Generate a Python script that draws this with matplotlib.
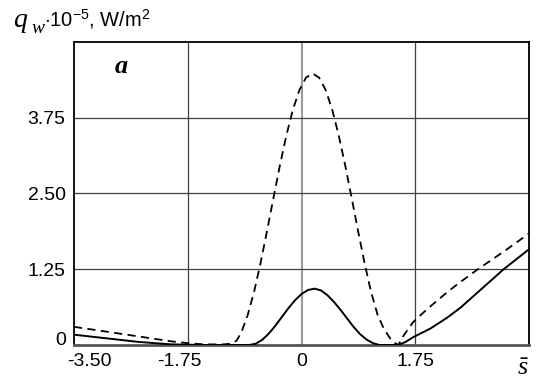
import matplotlib
matplotlib.use('Agg')
import matplotlib.pyplot as plt
import matplotlib.transforms as mtransforms

plt.rcParams['font.family'] = 'Liberation Sans'
plt.rcParams['axes.unicode_minus'] = False
plt.rcParams['mathtext.fontset'] = 'custom'
plt.rcParams['mathtext.it'] = 'Liberation Serif:italic'
plt.rcParams['mathtext.rm'] = 'Liberation Sans'
plt.rcParams['mathtext.bf'] = 'Liberation Serif:italic:bold'

# curve data
s_dash = [-3.5, -3.0, -2.5, -2.0, -1.75, -1.5, -1.2, -1.1, -1.0, -0.93, -0.83,
          -0.73, -0.63, -0.53, -0.43, -0.33, -0.23, -0.13, -0.03, 0.07, 0.17,
          0.27, 0.37, 0.47, 0.57, 0.67, 0.77, 0.87, 0.97, 1.07, 1.17, 1.27,
          1.37, 1.44, 1.49, 1.57, 1.72, 1.88, 2.03, 2.24, 2.42, 2.7, 3.11, 3.5]
q_dash = [0.30, 0.22, 0.14, 0.06, 0.03, 0.01, 0.01, 0.02, 0.07, 0.195, 0.485,
          0.875, 1.351, 1.881, 2.434, 2.975, 3.470, 3.891, 4.211, 4.412, 4.48,
          4.412, 4.211, 3.891, 3.470, 2.975, 2.434, 1.881, 1.351, 0.875, 0.50,
          0.26, 0.10, 0.03, 0.0, 0.155, 0.38, 0.54, 0.68, 0.87, 1.02, 1.24,
          1.54, 1.84]

s_solid = [-3.5, -3.0, -2.5, -2.25, -2.0, -1.5, -1.0, -0.8, -0.7, -0.6, -0.5,
           -0.4, -0.3, -0.2, -0.1, 0.0, 0.1, 0.2, 0.3, 0.4, 0.5, 0.6, 0.7, 0.8,
           0.9, 1.0, 1.1, 1.2, 1.49, 1.6, 1.72, 1.98, 2.24, 2.45, 3.11, 3.5]
q_solid = [0.17, 0.11, 0.05, 0.03, 0.01, 0.0, 0.0, 0.0, 0.023, 0.089, 0.192,
           0.321, 0.465, 0.609, 0.738, 0.841, 0.907, 0.93, 0.90, 0.82, 0.71,
           0.58, 0.44, 0.30, 0.18, 0.09, 0.03, 0.0, 0.0, 0.05, 0.13, 0.27,
           0.45, 0.62, 1.25, 1.58]

xticks = [-3.5, -1.75, 0, 1.75]
xticklabels = ['-3.50', '-1.75', '0', '1.75']
yticks = [0, 1.25, 2.5, 3.75]
yticklabels = ['0', '1.25', '2.50', '3.75']

fig = plt.figure(figsize=(5.36, 3.81), dpi=100)
ax = fig.add_axes([0.138, 0.0945, 0.849, 0.7955])

ax.plot(s_solid, q_solid, color='black', lw=1.4, zorder=3)
ax.plot(s_dash, q_dash, color='black', lw=1.3, dashes=(4.5, 3), zorder=3)

ax.set_xlim(-3.5, 3.5)
ax.set_ylim(0, 5)

# grid
for x in [-1.75, 1.75]:
    ax.axvline(x, color='#404040', lw=0.9, zorder=1)
ax.axvline(0, color='#9a9a9a', lw=1.5, zorder=1)
for y in [1.25, 2.5, 3.75]:
    ax.axhline(y, color='#404040', lw=0.9, zorder=1)

for sp in ax.spines.values():
    sp.set_linewidth(1.3)
ax.spines['bottom'].set_color('#555555')
ax.spines['bottom'].set_linewidth(2)

ax.tick_params(length=0, labelsize=14, pad=6)
ax.set_xticks(xticks)
ax.set_xticklabels(xticklabels)
ax.set_yticks(yticks)
ax.set_yticklabels(yticklabels)

# shift the negative labels like the original
shifts = {'-3.50': 15, '-1.75': -8}
for lab in ax.get_xticklabels():
    dx = shifts.get(lab.get_text(), 0)
    if dx:
        lab.set_transform(lab.get_transform() +
                          mtransforms.ScaledTranslation(dx / 100, 0, fig.dpi_scale_trans))
for lab in ax.get_yticklabels():
    if lab.get_text() == '0':
        lab.set_verticalalignment('baseline')

ax.text(0.104, 0.919, r'$\mathbf{a}$', transform=ax.transAxes,
        fontsize=19, ha='center', va='center')
ax.text(1.0, -0.035, r'$\bar{s}$', transform=ax.transAxes,
        fontsize=19, ha='right', va='top')
# y axis title: big italic q, subscript w, then the rest
fig.text(13 / 536, 1 - 27 / 381, r'$q$', fontsize=20, ha='left', va='baseline')
fig.text(31 / 536, 1 - 33 / 381, r'$w$', fontsize=14, ha='left', va='baseline')
fig.text(44 / 536, 1 - 26 / 381, r'$\cdot\mathrm{10^{-5}}$, W/m$^2$', fontsize=14.5,
         ha='left', va='baseline')

fig.savefig('out.png', dpi=100)
